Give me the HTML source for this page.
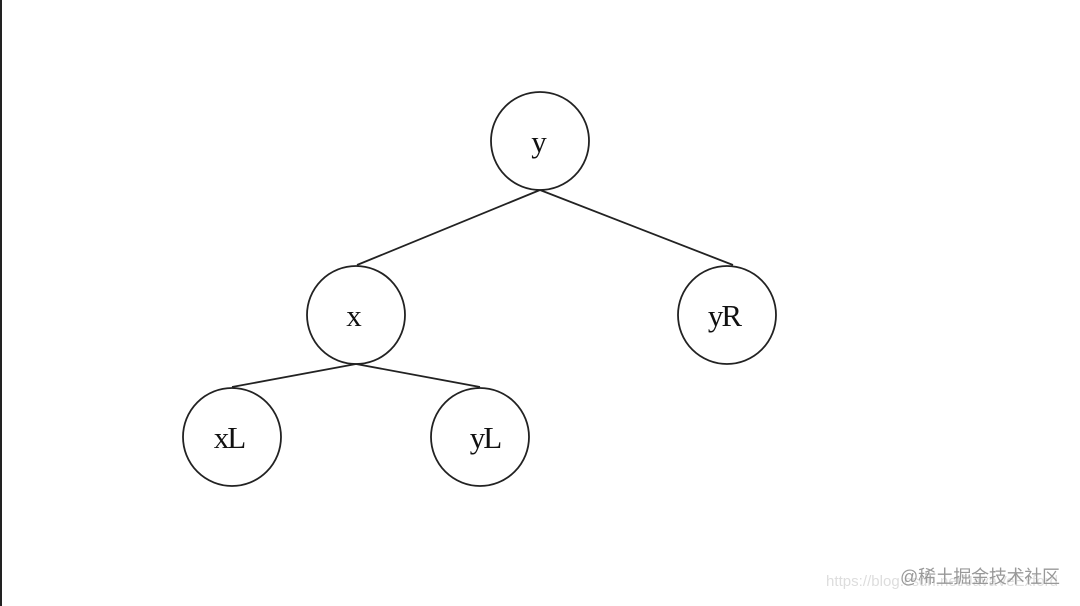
<!DOCTYPE html>
<html><head><style>
html,body{margin:0;padding:0;background:#fff;width:1080px;height:606px;overflow:hidden}
</style></head><body>
<svg width="1080" height="606" xmlns="http://www.w3.org/2000/svg">
<rect x="0" y="0" width="1080" height="606" fill="#fff"/>
<line x1="1" y1="0" x2="1" y2="606" stroke="#222" stroke-width="2"/>
<g stroke="#222" stroke-width="1.8" fill="none">
<line x1="540" y1="190" x2="357" y2="265"/>
<line x1="540" y1="190" x2="733" y2="265"/>
<line x1="356" y1="364" x2="232" y2="387"/>
<line x1="356" y1="364" x2="480" y2="387"/>
<circle cx="540" cy="141" r="49"/>
<circle cx="356" cy="315" r="49"/>
<circle cx="727" cy="315" r="49"/>
<circle cx="232" cy="437" r="49"/>
<circle cx="480" cy="437" r="49"/>
</g>
<g font-family="Liberation Serif, serif" font-size="31" fill="#111" text-anchor="middle" letter-spacing="-2">
<text x="538" y="152">y</text>
<text x="353" y="326">x</text>
<text x="724" y="326">yR</text>
<text x="229" y="448">xL</text>
<text x="485" y="448">yL</text>
</g>
<text x="826" y="586" font-family="Liberation Sans, sans-serif" font-size="15" fill="#ddd" textLength="232">https://blog.csdn.net/JavaVeExford</text>
<text x="900" y="583" font-family="Liberation Sans, 'Noto Sans CJK SC', sans-serif" font-size="18" fill="#999" textLength="160">@稀土掘金技术社区</text>
</svg>
</body></html>
